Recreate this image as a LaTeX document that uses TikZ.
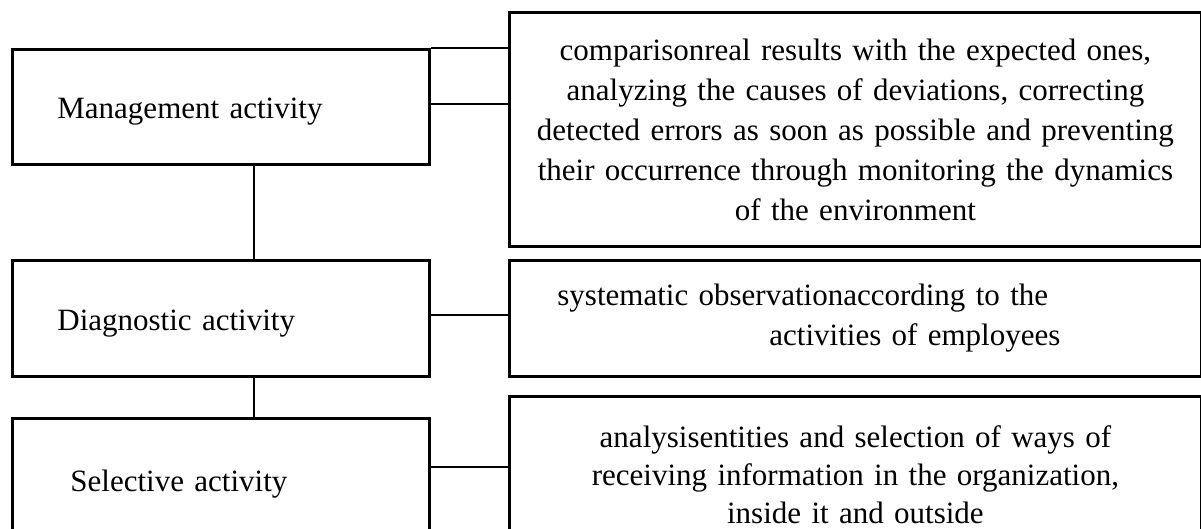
\documentclass[tikz,border=0pt]{standalone}
\usepackage{fontspec}
\setmainfont{Liberation Serif}
\begin{document}
\begin{tikzpicture}[x=1pt,y=-1pt,
  box/.style={draw=black, line width=2.8pt, rectangle, anchor=north west,
    inner ysep=0pt, font=\fontsize{31}{40}\selectfont},
  leftbox/.style={box, minimum width=417pt, inner xsep=45pt, text width=327pt,
    align=left, text height=31pt, text depth=7pt},
  rightbox/.style={box, minimum width=692pt, inner xsep=6pt, text width=680pt, align=center},
  link/.style={draw=black, line width=2pt}]
\useasboundingbox (0,0) rectangle (1201,529);
\clip (0,0) rectangle (1201,529);

% left column
\node[leftbox, minimum height=115pt] (mg) at (11,48) {Management activity};
\node[leftbox, minimum height=116pt] (dg) at (11,259) {Diagnostic activity};
\node[leftbox, minimum height=122pt] (sl) at (11,417) {\hspace*{13pt}Selective activity};

% right column
\node[rightbox, minimum height=234pt] (t1) at (508,11)
  {comparisonreal results with the expected ones,\\
   analyzing the causes of deviations, correcting\\
   detected errors as soon as possible and preventing\\
   their occurrence through monitoring the dynamics\\
   of the environment};
\node[box, minimum width=692pt, minimum height=116pt, inner xsep=48pt,
      text width=596pt, align=left] (t2) at (508,259)
  {systematic observationaccording to the\\
   \hspace*{212pt}activities of employees};
\node[rightbox, minimum height=156pt, font=\fontsize{31}{38}\selectfont] (t3) at (508,395)
  {analysisentities and selection of ways of\\
   receiving information in the organization,\\
   inside it and outside};

% connectors
\draw[box] (mg.north east) -- (mg.north east -| t1.west);
\draw[link] ([yshift=2.5pt]mg.east) -- ([yshift=2.5pt]mg.east -| t1.west);
\draw[link] ([yshift=3pt]dg.east) -- ([yshift=3pt]dg.east -| t2.west);
\draw[link] ([yshift=12pt]sl.east) -- ([yshift=12pt]sl.east -| t3.west);
\draw[link] ([xshift=33.5pt]mg.south) -- ([xshift=33.5pt]dg.north);
\draw[link] ([xshift=33.5pt]dg.south) -- ([xshift=33.5pt]sl.north);
\end{tikzpicture}
\end{document}
